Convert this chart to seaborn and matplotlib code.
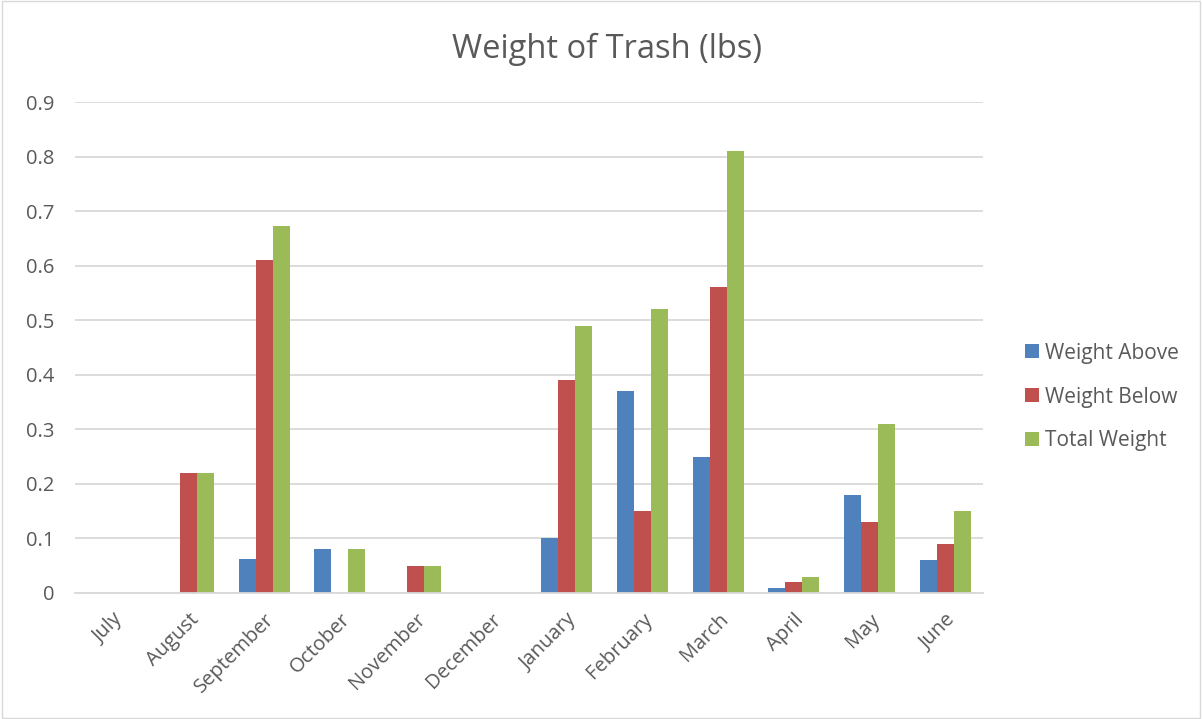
import matplotlib
matplotlib.use("Agg")
import matplotlib.pyplot as plt
import seaborn as sns
import pandas as pd
from matplotlib.patches import Rectangle

months = ["July", "August", "September", "October", "November", "December",
          "January", "February", "March", "April", "May", "June"]
weight_above = [0, 0, 0.062, 0.08, 0, 0, 0.10, 0.37, 0.25, 0.01, 0.18, 0.06]
weight_below = [0, 0.22, 0.61, 0, 0.05, 0, 0.39, 0.15, 0.56, 0.02, 0.13, 0.09]
total_weight = [0, 0.22, 0.672, 0.08, 0.05, 0, 0.49, 0.52, 0.81, 0.03, 0.31, 0.15]
series_names = ["Weight Above", "Weight Below", "Total Weight"]
yticks = [0, 0.1, 0.2, 0.3, 0.4, 0.5, 0.6, 0.7, 0.8, 0.9]
ytick_labels = ["0", "0.1", "0.2", "0.3", "0.4", "0.5", "0.6", "0.7", "0.8", "0.9"]

rows = []
for name, vals in zip(series_names, [weight_above, weight_below, total_weight]):
    for m, v in zip(months, vals):
        rows.append({"Month": m, "Series": name, "Value": v})
df = pd.DataFrame(rows)

sns.set_theme(style="white")
plt.rcParams['font.family'] = ['Open Sans', 'DejaVu Sans']
text_color = "#595959"
grid_color = "#D9D9D9"
palette = {"Weight Above": "#4F81BD", "Weight Below": "#C0504D", "Total Weight": "#9BBB59"}

fig = plt.figure(figsize=(12.02, 7.19), dpi=100)
ax = fig.add_axes([75/1202, (719-593)/719, (983-75)/1202, (593-102)/719])

sns.barplot(data=df, x="Month", y="Value", hue="Series", order=months,
            hue_order=series_names, palette=palette, width=0.67,
            saturation=1, ax=ax, legend=True, edgecolor="none", linewidth=0)

ax.set_ylim(0, 0.9)
ax.set_xlim(-0.5, 11.5)
ax.set_yticks(yticks)
ax.set_yticklabels(ytick_labels, color=text_color, fontsize=14.5)
ax.set_xticks(range(len(months)))
ax.set_xticklabels(months, rotation=45, ha="right", rotation_mode="anchor",
                   color=text_color, fontsize=14.5)
ax.tick_params(axis="x", length=0, pad=12)
ax.tick_params(axis="y", length=0, pad=15)
ax.yaxis.grid(True, color=grid_color, linewidth=1.3)
ax.set_axisbelow(True)
for s in ["top", "right", "left"]:
    ax.spines[s].set_visible(False)
ax.spines["bottom"].set_color(grid_color)
ax.spines["bottom"].set_linewidth(1.3)
ax.set_xlabel("")
ax.set_ylabel("")

fig.text(607/1202, 1 - 49/719, "Weight of Trash (lbs)", ha="center", va="center",
         fontsize=23.5, color=text_color)

handles, labels = ax.get_legend_handles_labels()
ax.legend_.remove()
fig.legend(handles, labels, loc="center left", bbox_to_anchor=(1025/1202, 1 - 397/719),
           frameon=False, fontsize=15, labelcolor=text_color, handlelength=0.67,
           handleheight=0.67, handletextpad=0.3, labelspacing=1.1,
           borderpad=0, borderaxespad=0)

fig.patches.append(Rectangle((0.002, 0.002), 0.996, 0.996, transform=fig.transFigure,
                             fill=False, edgecolor="#D9D9D9", linewidth=1))

fig.savefig("out.png", dpi=100, facecolor="white")
